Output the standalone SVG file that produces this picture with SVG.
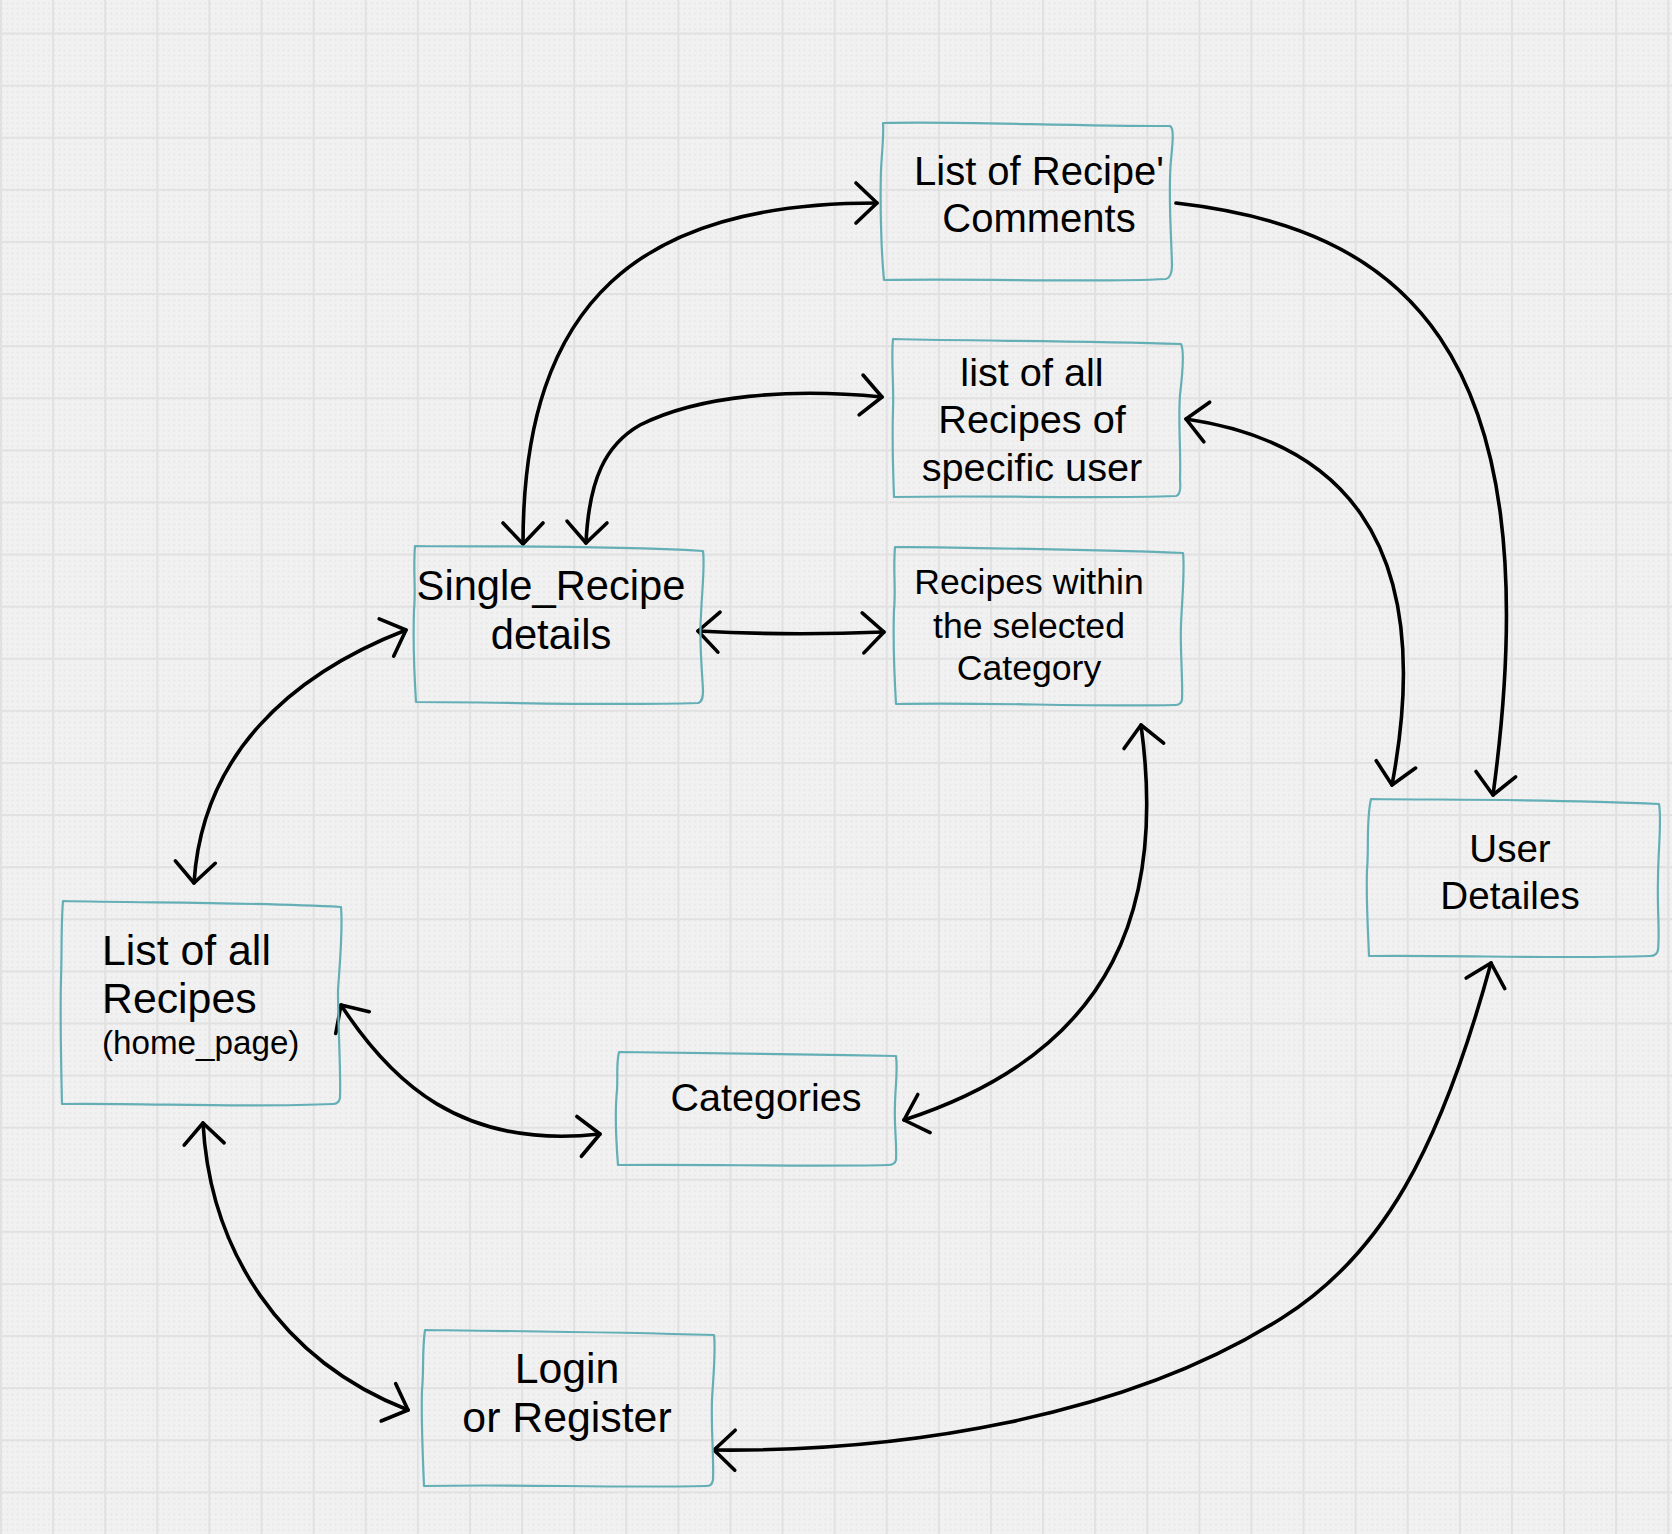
<svg xmlns="http://www.w3.org/2000/svg" width="1672" height="1534" viewBox="0 0 1672 1534">
<style>
.box{fill:none;stroke:#64afb6;stroke-width:2.2;stroke-linejoin:round}
.t{font-family:"Liberation Sans",Arial,sans-serif;fill:#000}
.c{text-anchor:middle}
.conn{fill:none;stroke:#000;stroke-width:3.6;stroke-linecap:round}
.bi{marker-start:url(#ah);marker-end:url(#ah)}
.uni{marker-end:url(#ah)}
</style>
<defs>
<pattern id="dots" width="5.21" height="5.21" patternUnits="userSpaceOnUse" x="0" y="32.5">
<rect x="1.3" y="1.3" width="1.7" height="1.7" fill="#e4e4e4"/>
</pattern>
<pattern id="grid" width="52.1" height="52.1" patternUnits="userSpaceOnUse" x="0" y="32.5">
<rect x="0" y="0" width="52.1" height="2" fill="#e1e1e1"/>
<rect x="0" y="0" width="2" height="52.1" fill="#e1e1e1"/>
</pattern>
<marker id="ah" markerUnits="userSpaceOnUse" viewBox="-30 -30 40 60" refX="0" refY="0" markerWidth="40" markerHeight="60" orient="auto-start-reverse" overflow="visible">
<path d="M -21 -20 L 0 0 L -21 20" fill="none" stroke="#000" stroke-width="3.6" stroke-linecap="round" stroke-linejoin="round"/>
</marker>
</defs>
<rect width="1672" height="1534" fill="#f1f1f1"/>
<rect width="1672" height="1534" fill="url(#dots)"/>
<rect width="1672" height="1534" fill="url(#grid)"/>

<g id="connectors">
<path class="conn bi" d="M 523 544 C 523 300, 640 203, 877 203"/>
<path class="conn bi" d="M 586 543 C 589 480, 605 445, 640 425 C 700 395, 790 388, 882 397"/>
<path class="conn bi" d="M 1186 419 C 1330 440, 1440 530, 1392 785"/>
<path class="conn uni" d="M 1176 203 C 1395 228, 1555 340, 1493 795"/>
<path class="conn bi" d="M 698 631 Q 790 636, 884 632"/>
<path class="conn bi" d="M 194 883 C 202 755, 290 675, 406 630"/>
<path class="conn bi" d="M 341 1005 C 390 1080, 460 1150, 600 1134"/>
<path class="conn bi" d="M 1141 725 C 1165 900, 1120 1050, 904 1120"/>
<path class="conn bi" d="M 203 1123 C 210 1250, 280 1360, 408 1410"/>
<path class="conn bi" d="M 714 1450 C 900 1452, 1125 1418, 1282 1318 C 1382 1255, 1440 1150, 1491 963"/>
</g>

<g id="node-comments">
<path class="box" d="M 883 123 C 960 121, 1060 126, 1170 126 C 1174 128, 1173 140, 1171 160 C 1168 190, 1171 230, 1172 265 C 1172 274, 1170 278, 1166 279 C 1090 283, 980 278, 884 280 C 881 250, 880 200, 881 170 C 882 150, 884 135, 883 123 Z"/>
<text class="t c" x="1039" y="185" font-size="40">List of Recipe'</text>
<text class="t c" x="1039" y="232" font-size="40">Comments</text>
</g>

<g id="node-user-recipes">
<path class="box" d="M 893 339 C 980 341, 1080 341, 1181 344 C 1184 350, 1183 370, 1180 395 C 1178 420, 1181 450, 1180 480 C 1181 490, 1180 495, 1176 496 C 1090 499, 990 495, 894 497 C 893 470, 892 440, 893 410 C 894 385, 891 360, 893 339 Z"/>
<text class="t c" x="1032" y="386" font-size="39.7">list of all</text>
<text class="t c" x="1032" y="433" font-size="39.7">Recipes of</text>
<text class="t c" x="1032" y="481" font-size="39.7">specific user</text>
</g>

<g id="node-single-recipe">
<path class="box" d="M 415 546 C 500 547, 600 545, 703 551 C 705 565, 702 590, 701 615 C 699 640, 702 670, 703 690 C 703 698, 702 702, 698 703 C 600 706, 510 702, 416 702 C 414 670, 413 640, 414 610 C 416 590, 413 570, 415 546 Z"/>
<text class="t c" x="551" y="600" font-size="41.7">Single_Recipe</text>
<text class="t c" x="551" y="649" font-size="41.7">details</text>
</g>

<g id="node-category-recipes">
<path class="box" d="M 895 547 C 980 548, 1080 549, 1183 553 C 1185 570, 1182 600, 1181 625 C 1180 650, 1183 680, 1182 700 C 1181 704, 1178 705, 1175 705 C 1080 707, 990 702, 896 704 C 894 670, 893 640, 894 610 C 896 590, 893 570, 895 547 Z"/>
<text class="t c" x="1029" y="594" font-size="35.6">Recipes within</text>
<text class="t c" x="1029" y="638" font-size="35.6">the selected</text>
<text class="t c" x="1029" y="680" font-size="35.6">Category</text>
</g>

<g id="node-all-recipes">
<path class="box" d="M 63 901 C 150 903, 250 902, 341 907 C 343 930, 340 960, 338 990 C 338 1030, 341 1070, 340 1098 C 339 1103, 336 1104, 333 1104 C 240 1108, 150 1103, 62 1104 C 61 1060, 60 1020, 61 980 C 62 950, 61 925, 63 901 Z"/>
<text class="t" x="102" y="965" font-size="42.8">List of all</text>
<text class="t" x="102" y="1013" font-size="42.8">Recipes</text>
<text class="t" x="102" y="1054" font-size="33.2">(home_page)</text>
</g>

<g id="node-user-details">
<path class="box" d="M 1371 799 C 1450 800, 1550 799, 1659 804 C 1662 820, 1658 850, 1658 880 C 1657 910, 1660 930, 1658 950 C 1657 955, 1654 956, 1650 956 C 1560 959, 1460 955, 1369 956 C 1368 930, 1366 900, 1367 870 C 1369 850, 1366 820, 1371 799 Z"/>
<text class="t c" x="1510" y="862" font-size="38.6">User</text>
<text class="t c" x="1510" y="909" font-size="38.6">Detailes</text>
</g>

<g id="node-categories">
<path class="box" d="M 619 1052 C 700 1053, 800 1054, 896 1056 C 898 1070, 895 1090, 895 1105 C 894 1125, 897 1145, 896 1160 C 895 1164, 892 1165, 888 1165 C 800 1167, 710 1164, 618 1165 C 616 1140, 615 1110, 617 1090 C 618 1075, 616 1065, 619 1052 Z"/>
<text class="t c" x="766" y="1111" font-size="39.5">Categories</text>
</g>

<g id="node-login">
<path class="box" d="M 425 1330 C 510 1331, 610 1332, 714 1335 C 716 1350, 713 1380, 712 1400 C 711 1430, 714 1460, 713 1480 C 712 1485, 710 1486, 706 1486 C 610 1488, 520 1484, 424 1486 C 423 1460, 421 1420, 422 1390 C 424 1370, 422 1350, 425 1330 Z"/>
<text class="t c" x="567" y="1383" font-size="42.8">Login</text>
<text class="t c" x="567" y="1432" font-size="42.8">or Register</text>
</g>
</svg>
